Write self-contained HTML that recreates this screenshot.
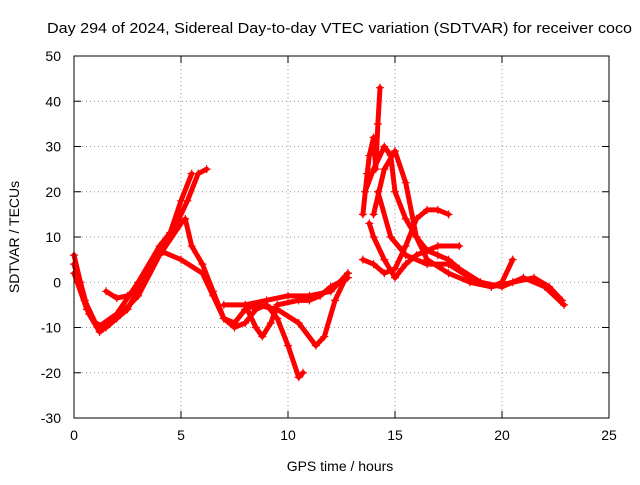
<!DOCTYPE html>
<html><head><meta charset="utf-8"><style>
body{margin:0;background:#fff;}
svg{font-family:"Liberation Sans",sans-serif;}
</style></head><body>
<svg id="chart" width="640" height="480" viewBox="0 0 640 480">
<rect width="640" height="480" fill="#fff"/>
<text x="47" y="33" font-size="15" textLength="585" lengthAdjust="spacingAndGlyphs">Day 294 of 2024, Sidereal Day-to-day VTEC variation (SDTVAR) for receiver coco</text>
<text x="340" y="471" font-size="14" text-anchor="middle">GPS time / hours</text>
<text transform="translate(19,237) rotate(-90)" font-size="14" text-anchor="middle">SDTVAR / TECUs</text>
<g id="grid"></g><g id="marks"></g>
<rect x="74" y="56" width="535" height="362" fill="none" stroke="#000" stroke-width="1"/>
</svg>
<script>
const xTicks=[0,5,10,15,20,25];
const yTicks=[-30,-20,-10,0,10,20,30,40,50];
const track1=[[0,6],[0.3,0],[0.7,-7],[1.2,-11],[2,-8],[3,-3],[4,6],[5,13],[5.2,14],[5.5,8],[6,4],[6.5,-2],[7,-8],[7.5,-10],[8,-9],[8.5,-6],[9,-5],[9.5,-8],[10,-14],[10.5,-21],[10.7,-20]];
const track2=[[0,4],[0.5,-4],[1,-9],[1.5,-10],[2.5,-6],[3.5,3],[4.5,10],[5.3,18],[5.8,24],[6.2,25]];
const track3=[[0,2],[0.6,-6],[1.1,-10],[2,-7],[3,0],[4,8],[4.5,11],[5,18],[5.5,24]];
const track4=[[1.5,-2],[2,-3.5],[2.5,-3],[3,-1],[3.5,3],[4,7],[5,5],[6,2],[6.5,-3],[7,-8],[7.5,-9],[8,-6],[8.5,-5],[9.5,-6],[10.5,-9],[11.3,-14],[11.7,-12],[12.2,-4],[12.8,2]];
const track5=[[7,-5],[8,-5],[9,-4],[10,-3],[11,-3],[12,-2],[12.8,2]];
const track6=[[8,-5],[8.5,-10],[8.8,-12],[9.2,-9],[9.5,-5],[10.5,-4],[11,-4],[11.5,-3],[12,-1],[12.8,1]];
const track7=[[13.5,15],[13.7,24],[13.8,28],[14,32],[14.1,25],[14.2,35],[14.3,43]];
const track8=[[13.6,20],[14,25],[14.5,30],[14.8,28],[15,20],[15.5,14],[16,10],[16.5,7],[17,6],[17.5,5],[18,3],[19,0],[20,-1],[21,1],[22,-1],[22.9,-5]];
const track9=[[13.5,5],[14,4],[14.5,2],[15,3],[15.5,8],[16,14],[16.5,16],[17,16],[17.5,15]];
const track10=[[13.8,13],[14,10],[14.5,5],[15,1],[15.5,4],[16,6],[16.5,7],[17,8],[18,8]];
const track11=[[14.2,20],[14.8,10],[15.5,6],[16.5,4],[17.5,4],[18.5,1],[19.5,-1],[20,0],[20.5,5]];
const track12=[[14,15],[14.5,25],[15,29],[15.5,22],[16,10],[16.5,5],[17.5,2],[18.5,0],[19.5,-1],[20.5,0],[21.5,1],[22.2,-1],[22.8,-4]];
const tracks=[track1,track2,track3,track4,track5,track6,track7,track8,track9,track10,track11,track12];
const X0=74,X1=609,Y0=418,Y1=56;
const sx=v=>X0+(v-0)/25*(X1-X0);
const sy=v=>Y0-(v+30)/80*(Y0-Y1);
const NS='http://www.w3.org/2000/svg';
const grid=document.getElementById('grid'),marks=document.getElementById('marks');
function mk(t,a,p){const e=document.createElementNS(NS,t);for(const k in a)e.setAttribute(k,a[k]);p.appendChild(e);return e;}
xTicks.forEach(v=>{const x=sx(v);
 if(v>0&&v<25){const g=mk('line',{x1:x,x2:x,y1:Y0,y2:Y1,stroke:'#999','stroke-dasharray':'1,3'},grid);
 
 }
 mk('line',{x1:x,x2:x,y1:Y0,y2:Y0-7,stroke:'#000'},grid);mk('line',{x1:x,x2:x,y1:Y1,y2:Y1+7,stroke:'#000'},grid);
 const t=mk('text',{x:x,y:Y0+22,'font-size':14,'text-anchor':'middle'},grid);t.textContent=v;
 
 });
yTicks.forEach(v=>{const y=sy(v);
 if(v>-30&&v<50){const g=mk('line',{x1:X0,x2:X1,y1:y,y2:y,stroke:'#999','stroke-dasharray':'1,3'},grid);
 
 }
 mk('line',{x1:X0,x2:X0+7,y1:y,y2:y,stroke:'#000'},grid);mk('line',{x1:X1,x2:X1-7,y1:y,y2:y,stroke:'#000'},grid);
 const t=mk('text',{x:X0-13,y:y+5,'font-size':14,'text-anchor':'end'},grid);t.textContent=v;
 
 });
tracks.forEach((tr,i)=>{
 const p=mk('polyline',{points:tr.map(d=>sx(d[0])+','+sy(d[1])).join(' '),fill:'none',stroke:'#f00','stroke-width':5,'stroke-linejoin':'round','stroke-linecap':'round'},marks);
 
 
 tr.forEach(d=>{const x=sx(d[0]),y=sy(d[1]);
  const m=mk('path',{d:`M${x-4},${y}H${x+4}M${x},${y-4}V${y+4}`,stroke:'#f00','stroke-width':1.2},marks);
  
  });
});
</script>
</body></html>
